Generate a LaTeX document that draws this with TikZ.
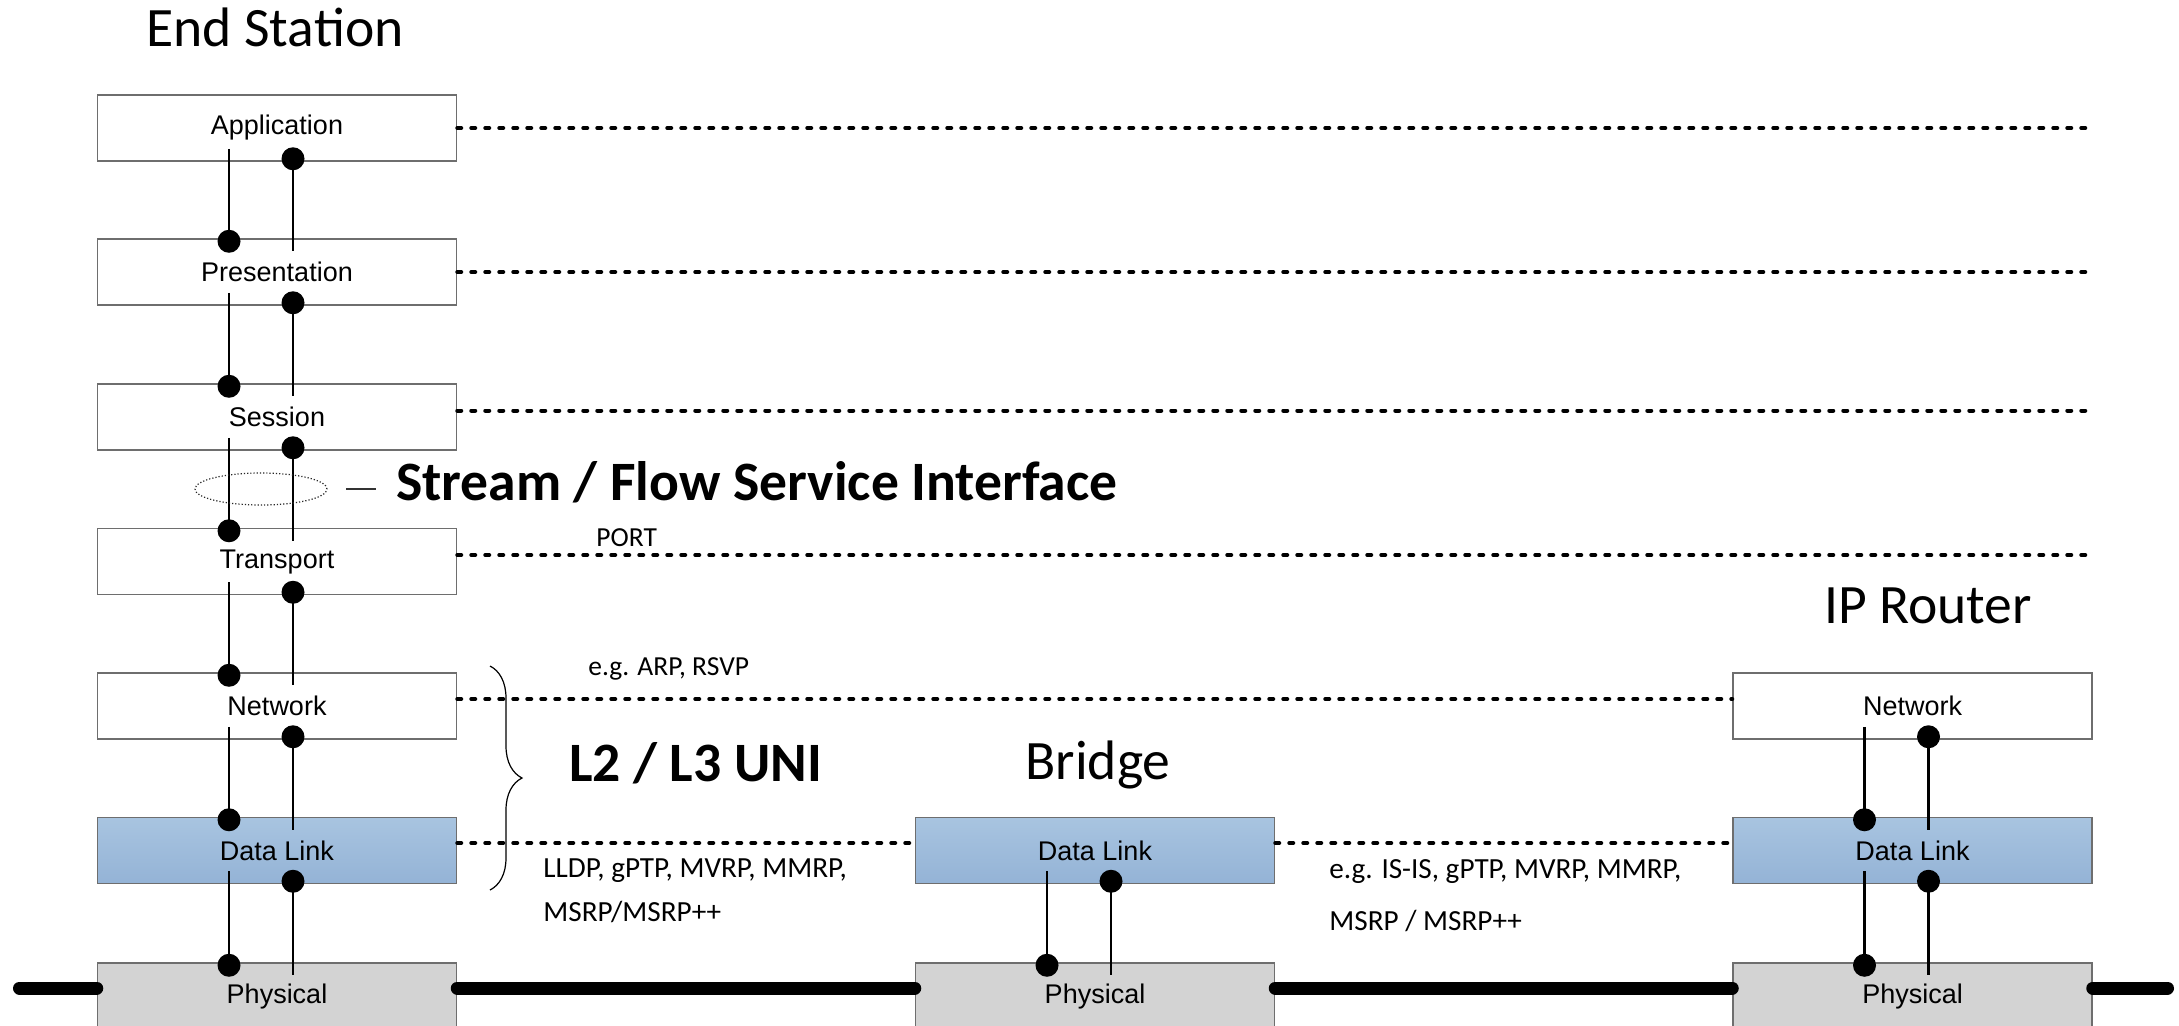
\documentclass[tikz,border=0pt]{standalone}
\usepackage{fontspec}
\setmainfont{Carlito}
\newfontfamily\arialfont{Liberation Sans}
\usetikzlibrary{decorations.pathreplacing,calc,shapes.geometric}

\definecolor{boxline}{RGB}{110,110,110}
\definecolor{linktop}{RGB}{168,196,224}
\definecolor{linkbot}{RGB}{148,179,214}
\definecolor{phyfill}{RGB}{211,211,211}

\tikzset{
  layer/.style={draw=boxline, line width=0.75pt, fill=white,
    minimum width=179.5pt, minimum height=33pt, inner sep=0pt,
    font=\arialfont\fontsize{13.5}{16}\selectfont},
  linklayer/.style={layer, top color=linktop, bottom color=linkbot},
  phylayer/.style={layer, fill=phyfill},
  peer/.style={line width=2pt, dash pattern=on 2pt off 5pt, line cap=round},
  medium/.style={line width=6.5pt, line cap=round},
  sap/.style={line width=1.25pt},
  title/.style={font=\fontsize{27.8}{30}\selectfont, anchor=base},
  bigbold/.style={font=\bfseries\fontsize{27.8}{30}\selectfont, anchor=base west},
  proto/.style={font=\fontsize{13.75}{16}\selectfont, anchor=base west, inner sep=0pt},
  protowide/.style={proto, font=\fontsize{14.6}{17}\selectfont},
}

% pair of service access lines between an upper and a lower layer
\newcommand\sapPair[2]{%
  \draw[sap] ([xshift=-24pt,yshift=6.5pt]#1.south) -- ([xshift=-24pt,yshift=-1.5pt]#2.north);
  \fill ([xshift=-24pt,yshift=-1.5pt]#2.north) circle (5.75pt);
  \draw[sap] ([xshift=8pt,yshift=1.5pt]#1.south) -- ([xshift=8pt,yshift=-6.5pt]#2.north);
  \fill ([xshift=8pt,yshift=1.5pt]#1.south) circle (5.75pt);
}

\begin{document}
\begin{tikzpicture}[x=0.5pt, y=-0.5pt]
\fill[white] (0,0) rectangle (2179,1025);
\useasboundingbox (0,0) rectangle (2179,1025);

% end station stack
\node[layer]     (esApp) at (277,128)   {Application};
\node[layer]     (esPre) at (277,272)   {Presentation};
\node[layer]     (esSes) at (277,417)   {Session};
\node[layer]     (esTra) at (277,561.5) {Transport};
\node[layer]     (esNet) at (277,706)   {Network};
\node[linklayer] (esDl)  at (277,850.5) {Data Link};
\node[phylayer]  (esPhy) at (277,996)   {Physical};

% bridge
\node[linklayer] (brDl)  at (1095,850.5) {Data Link};
\node[phylayer]  (brPhy) at (1095,996)   {Physical};

% router
\node[layer]     (rtNet) at (1912.5,706)   {Network};
\node[linklayer] (rtDl)  at (1912.5,850.5) {Data Link};
\node[phylayer]  (rtPhy) at (1912.5,996)   {Physical};

% titles
\node[title] (tEs) at (275,46)    {End Station};
\node[title] (tBr) at (1098,779)  {Bridge};
\node[title] (tRt) at (1928,623)  {IP Router};

% peer protocol lines
\coordinate (farEnd) at (2092,0);
\coordinate (sesPeer) at ([yshift=3.25pt]esSes.east);
\coordinate (traPeer) at ([yshift=3.25pt]esTra.east);
\coordinate (netPeer) at ([yshift=3.5pt]esNet.east);
\coordinate (dlPeer)  at ([yshift=3.75pt]esDl.east);
\draw[peer] (esApp.east) -- (esApp.east -| farEnd);
\draw[peer] (esPre.east) -- (esPre.east -| farEnd);
\draw[peer] (sesPeer) -- (sesPeer -| farEnd);
\draw[peer] (traPeer) -- (traPeer -| farEnd);
\draw[peer] (netPeer) -- (netPeer -| rtNet.west);
\draw[peer] (dlPeer) -- (dlPeer -| brDl.west);
\draw[peer] (dlPeer -| brDl.east) -- (dlPeer -| rtDl.west);

% physical medium
\coordinate (wireL) at (19.5,988);
\coordinate (wireR) at (2167.5,988);
\draw[medium] (wireL) -- (wireL -| esPhy.west);
\draw[medium] (wireL -| esPhy.east) -- (wireL -| brPhy.west);
\draw[medium] (wireL -| brPhy.east) -- (wireL -| rtPhy.west);
\draw[medium] (wireL -| rtPhy.east) -- (wireR);

% service access points
\sapPair{esApp}{esPre}
\sapPair{esPre}{esSes}
\sapPair{esSes}{esTra}
\sapPair{esTra}{esNet}
\sapPair{esNet}{esDl}
\sapPair{esDl}{esPhy}
\sapPair{brDl}{brPhy}
\sapPair{rtNet}{rtDl}
\sapPair{rtDl}{rtPhy}

% stream / flow service interface marker
\node[draw=black!85, densely dotted, line width=0.6pt, ellipse, minimum width=66pt, minimum height=16pt, inner sep=0pt] (sfsi) at (261,489) {};
\node[bigbold] (sfsiLabel) at (389,500) {Stream / Flow Service Interface};
\coordinate (tickA) at (346,489);
\coordinate (tickB) at (376,489);
\draw[line width=0.6pt, black!80] (tickA) -- (tickB);

% UNI brace
\coordinate (braceTop) at (490,666);
\coordinate (braceBot) at (490,890);
\draw[line width=0.6pt, decorate, decoration={brace, amplitude=16pt}] (braceTop) -- (braceBot);
\node[bigbold] (uni) at (562,781) {L2 / L3 UNI};

% protocol notes
\node[proto]     (pPort) at (596,546) {PORT};
\node[proto]     (pArp)  at (588,675) {e.g. ARP, RSVP};
\node[protowide] (pL2a)  at (543,877) {LLDP, gPTP, MVRP, MMRP,};
\node[protowide] (pL2b)  at (543,921) {MSRP/MSRP++};
\node[protowide] (pBra)  at (1329,878) {e.g. IS-IS, gPTP, MVRP, MMRP,};
\node[protowide] (pBrb)  at (1329,930) {MSRP / MSRP++};
\end{tikzpicture}
\end{document}
